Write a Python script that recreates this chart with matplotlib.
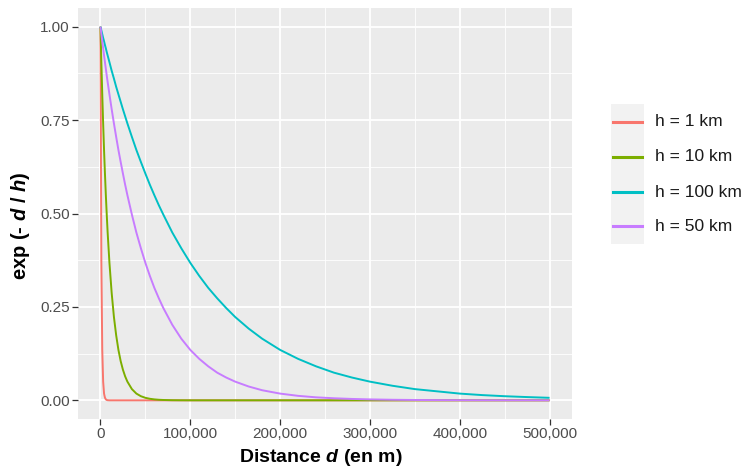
import matplotlib
matplotlib.use("Agg")
import matplotlib.pyplot as plt
from matplotlib.lines import Line2D
from matplotlib.patches import Rectangle
from matplotlib.ticker import FuncFormatter, MultipleLocator

# # data # #
distance = [0, 1000, 2000, 3000, 4000, 5000, 6000, 7000, 8000, 10000,
            12500, 15000, 17500, 20000, 22500, 25000, 27500, 30000,
            35000, 40000, 45000, 50000, 55000, 60000, 65000, 70000,
            80000, 90000, 100000, 110000, 120000, 130000, 140000, 150000,
            165000, 180000, 200000,
            220000, 240000, 260000, 280000, 300000,
            325000, 350000, 375000, 400000, 425000, 450000, 475000, 500000]
h_1km = [1, 0.37, 0.135, 0.05, 0.018, 0.007, 0.0025, 0.0009, 0.0003, 0,
         0, 0, 0, 0, 0, 0, 0, 0,
         0, 0, 0, 0, 0, 0, 0, 0,
         0, 0, 0, 0, 0, 0, 0, 0,
         0, 0, 0,
         0, 0, 0, 0, 0,
         0, 0, 0, 0, 0, 0, 0, 0]
h_10km = [1, 0.905, 0.819, 0.741, 0.670, 0.607, 0.549, 0.497, 0.449, 0.368,
          0.287, 0.223, 0.174, 0.135, 0.105, 0.082, 0.064, 0.050,
          0.030, 0.018, 0.011, 0.0067, 0.0041, 0.0025, 0.0015, 0.0009,
          0.0003, 0.0001, 0, 0, 0, 0, 0, 0,
          0, 0, 0,
          0, 0, 0, 0, 0,
          0, 0, 0, 0, 0, 0, 0, 0]
h_100km = [1, 0.990, 0.980, 0.970, 0.961, 0.951, 0.942, 0.932, 0.923, 0.905,
           0.882, 0.861, 0.839, 0.819, 0.799, 0.779, 0.760, 0.741,
           0.705, 0.670, 0.638, 0.607, 0.577, 0.549, 0.522, 0.497,
           0.449, 0.407, 0.368, 0.333, 0.301, 0.273, 0.247, 0.223,
           0.192, 0.165, 0.135,
           0.111, 0.091, 0.074, 0.061, 0.050,
           0.039, 0.030, 0.024, 0.018, 0.014, 0.011, 0.0087, 0.0067]
h_50km = [1, 0.980, 0.961, 0.942, 0.923, 0.905, 0.887, 0.869, 0.852, 0.819,
          0.779, 0.741, 0.705, 0.670, 0.638, 0.607, 0.577, 0.549,
          0.497, 0.449, 0.407, 0.368, 0.333, 0.301, 0.273, 0.247,
          0.202, 0.165, 0.135, 0.111, 0.091, 0.074, 0.061, 0.050,
          0.037, 0.027, 0.018,
          0.012, 0.008, 0.0055, 0.0037, 0.0025,
          0.0015, 0.0009, 0.00055, 0.0003, 0.0002, 0.0001, 0.0001, 0]

labels = ["h = 1 km", "h = 10 km", "h = 100 km", "h = 50 km"]
series = [h_1km, h_10km, h_100km, h_50km]
colors = ["#F8766D", "#7CAE00", "#00BFC4", "#C77CFF"]

plt.rcParams["font.family"] = ["Liberation Sans", "DejaVu Sans"]
plt.rcParams["mathtext.fontset"] = "custom"
plt.rcParams["mathtext.it"] = "Liberation Sans:bold:italic"
plt.rcParams["mathtext.rm"] = "Liberation Sans:bold"

fig = plt.figure(figsize=(7.45, 4.71), dpi=100)
ax = fig.add_axes([0.1047, 0.1104, 0.6631, 0.8726])
ax.set_facecolor("#EBEBEB")

# # grid # #
ax.xaxis.set_major_locator(MultipleLocator(100000))
ax.xaxis.set_minor_locator(MultipleLocator(50000))
ax.yaxis.set_major_locator(MultipleLocator(0.25))
ax.yaxis.set_minor_locator(MultipleLocator(0.125))
ax.grid(which="major", color="white", lw=1.3)
ax.grid(which="minor", color="white", lw=0.6)
ax.set_axisbelow(True)
for s in ax.spines.values():
  s.set_visible(False)

# # curves # #
for vals, col in zip(series, colors):
  ax.plot(distance, vals, color=col, lw=1.4, solid_capstyle="butt")

ax.set_xlim(-25000, 525000)
ax.set_ylim(-0.05, 1.05)
ax.xaxis.set_major_formatter(FuncFormatter(lambda v, p: "{:,.0f}".format(v)))
ax.yaxis.set_major_formatter(FuncFormatter(lambda v, p: "{:.2f}".format(v)))
ax.tick_params(which="major", length=4, width=0.9, color="#333333",
               labelcolor="#4D4D4D", labelsize=11, pad=2)
ax.tick_params(which="minor", length=0)

ax.set_xlabel(r"Distance $\mathit{d}$ (en m)", fontsize=14,
              fontweight="bold")
ax.set_ylabel(r"exp (- $\mathit{d}$ / $\mathit{h}$)", fontsize=14.5,
              fontweight="bold")
ax.xaxis.set_label_coords(0.492, -0.068)
ax.yaxis.set_label_coords(-0.093, 0.47)

# # legend, drawn by hand to match the ggplot key box # #
fig.add_artist(Rectangle((0.820, 0.482), 0.044, 0.297,
                         transform=fig.transFigure, facecolor="#F2F2F2",
                         edgecolor="none"))
ys = [0.741, 0.667, 0.592, 0.520]
for lab, col, y in zip(labels, colors, ys):
  fig.add_artist(Line2D([0.823, 0.862], [y, y], transform=fig.transFigure,
                        color=col, lw=2.2))
  fig.text(0.879, y, lab, fontsize=12.5, color="#1A1A1A", va="center")

fig.savefig("out.png", dpi=100)
